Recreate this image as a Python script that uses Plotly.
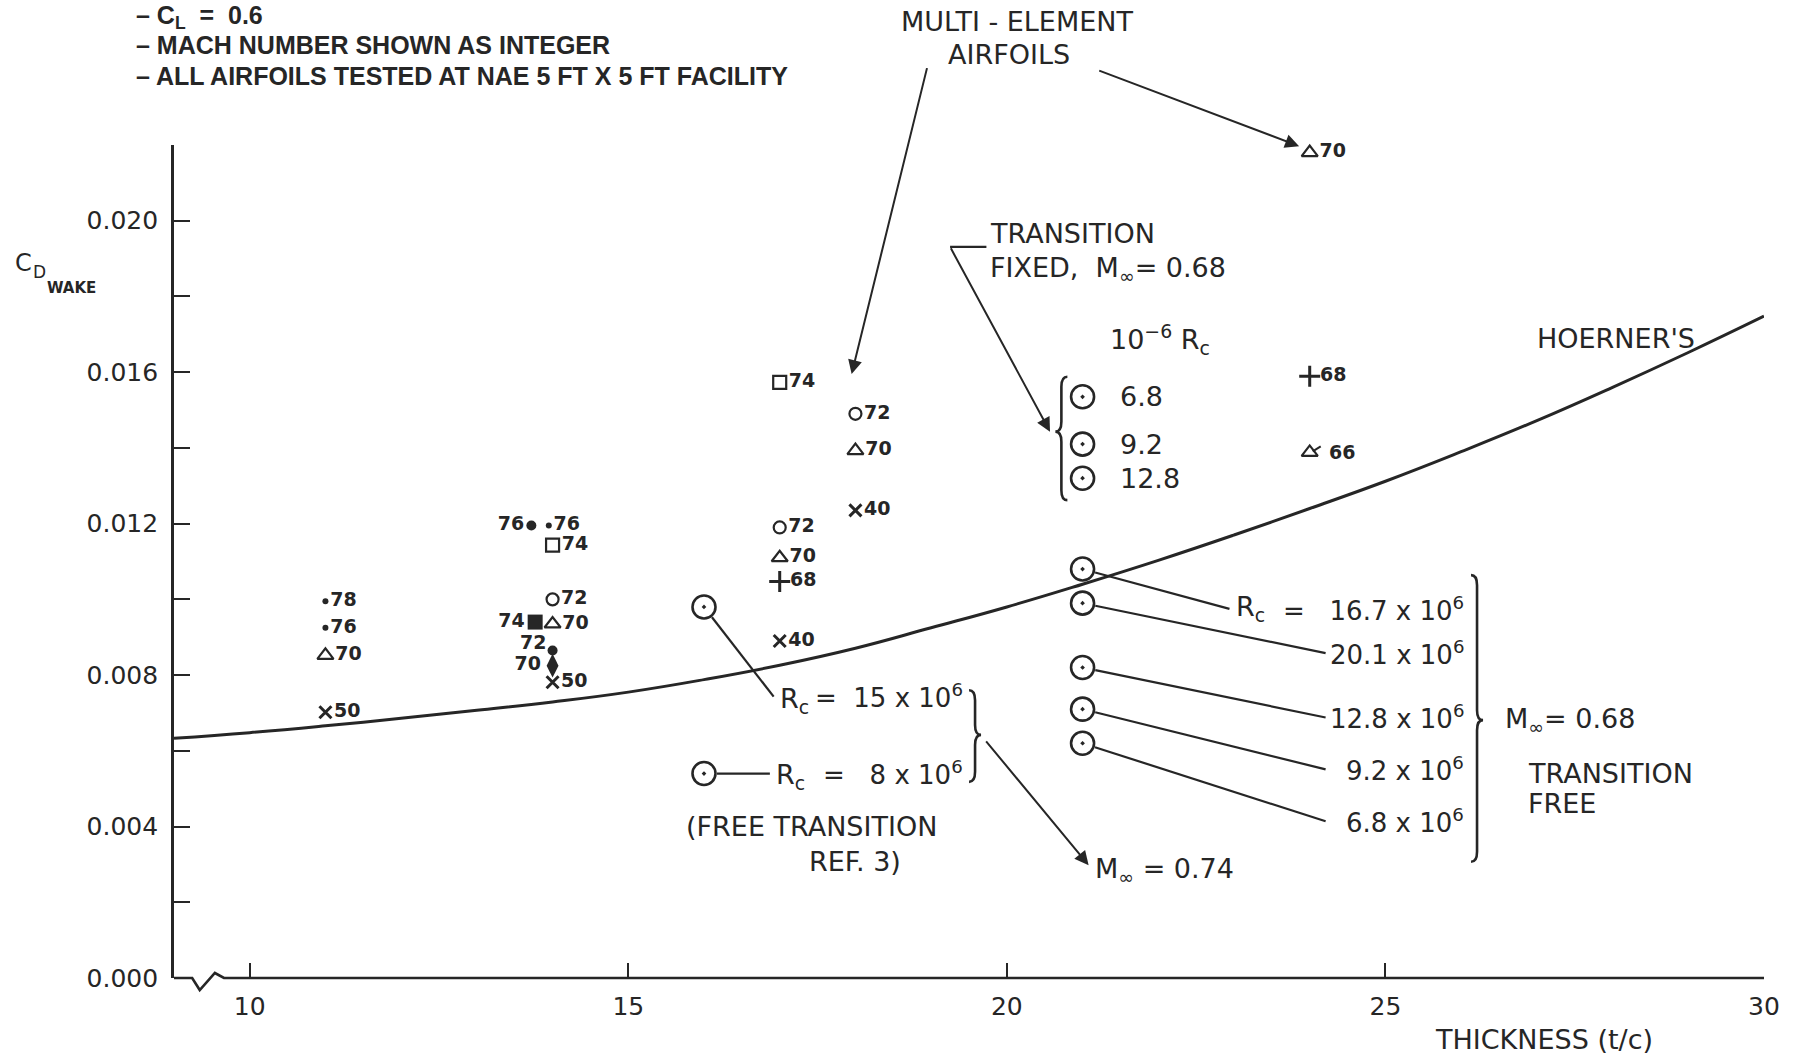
import math
import plotly.graph_objects as go

# ---------------- geometry ----------------
FIG_W, FIG_H = 1793, 1056
M_L, M_R, M_T, M_B = 174, 29, 145, 78
X_RANGE = [9.0, 30.0]
Y_RANGE = [0.0, 0.022]
PW = FIG_W - M_L - M_R
PH = FIG_H - M_T - M_B

INK = "#262626"
FONT = "DejaVu Sans"
TITLE_FONT = "Liberation Sans"

# ---------------- axis ticks ----------------
x_tick_vals = [10, 15, 20, 25, 30]
x_tick_text = ["10", "15", "20", "25", "30"]
y_tick_vals = [0.000, 0.002, 0.004, 0.006, 0.008, 0.010, 0.012,
               0.014, 0.016, 0.018, 0.020, 0.022]
y_tick_text = ["0.000", "", "0.004", "", "0.008", "", "0.012",
               "", "0.016", "", "0.020", ""]

# ---------------- Hoerner's curve (thickness %, Cd) ----------------
hoerner_t = [9, 10, 11, 12, 13, 14, 15, 16, 17, 18, 19, 20,
             21, 22, 23, 24, 25, 26, 27, 28, 29, 30]
hoerner_cd = [0.00633, 0.00648, 0.00666, 0.00686, 0.00707, 0.00729,
              0.00755, 0.00788, 0.00826, 0.00871, 0.00925, 0.00980,
              0.01040, 0.01103, 0.01170, 0.01240, 0.01312, 0.01390,
              0.01472, 0.01560, 0.01652, 0.01748]

# ---------------- NAE airfoil data (label = Mach x 100) ----------------
dot_t = [11, 11, 13.95]
dot_cd = [0.00995, 0.00925, 0.01195]
dot_m = ["78", "76", "76"]

fdot_t = [13.72, 14.0]
fdot_cd = [0.01195, 0.00865]
fdot_m = ["76", "72"]

sq_t = [14, 17]
sq_cd = [0.01143, 0.01573]
sq_m = ["74", "74"]

fsq_t = [13.77]
fsq_cd = [0.0094]
fsq_m = ["74"]

circ_t = [14, 17, 18]
circ_cd = [0.0100, 0.0119, 0.0149]
circ_m = ["72", "72", "72"]

tri_t = [11, 14, 17, 18, 24]
tri_cd = [0.00852, 0.00935, 0.0111, 0.01393, 0.0218]
tri_m = ["70", "70", "70", "70", "70"]

ftri_t = [24]
ftri_cd = [0.01388]
ftri_m = ["66"]

fdia_t = [14.0]
fdia_cd = [0.00825]
fdia_m = ["70"]

plus_t = [17, 24]
plus_cd = [0.01047, 0.01589]
plus_m = ["68", "68"]

cross_t = [11, 14, 17, 18]
cross_cd = [0.00702, 0.00781, 0.0089, 0.01235]
cross_m = ["50", "50", "40", "40"]

# Reynolds-number series (circle-dot symbols)
ref3_t = [16, 16]
ref3_cd = [0.0098, 0.0054]
ref3_rc = ["15", "8"]

fixed_t = [21, 21, 21]
fixed_cd = [0.01535, 0.0141, 0.0132]
fixed_rc = ["6.8", "9.2", "12.8"]

free_t = [21, 21, 21, 21, 21]
free_cd = [0.0108, 0.0099, 0.0082, 0.0071, 0.0062]
free_rc = ["16.7", "20.1", "12.8", "9.2", "6.8"]


# ---------------- coordinate helpers ----------------
def xpix(v):
    return M_L + (v - X_RANGE[0]) / (X_RANGE[1] - X_RANGE[0]) * PW


def ypix(v):
    return M_T + PH - (v - Y_RANGE[0]) / (Y_RANGE[1] - Y_RANGE[0]) * PH


def xdata(p):
    return X_RANGE[0] + (p - M_L) / PW * (X_RANGE[1] - X_RANGE[0])


def ydata(p):
    return Y_RANGE[0] + (M_T + PH - p) / PH * (Y_RANGE[1] - Y_RANGE[0])


def xpaper(v):
    return (v - X_RANGE[0]) / (X_RANGE[1] - X_RANGE[0])


def ypaper(v):
    return (v - Y_RANGE[0]) / (Y_RANGE[1] - Y_RANGE[0])


def px2paper(X, Y):
    return (X - M_L) / PW, (M_T + PH - Y) / PH


fig = go.Figure()

# Hoerner's reference curve
fig.add_trace(go.Scatter(
    x=hoerner_t, y=hoerner_cd, mode="lines",
    line=dict(color=INK, width=3, shape="spline", smoothing=1.3),
    hoverinfo="skip", showlegend=False))


def add_points(xs, ys, labels, symbol, size, pos="middle right",
               lw=2.2, color=INK):
    fig.add_trace(go.Scatter(
        x=xs, y=ys, mode="markers+text", text=labels,
        textposition=pos,
        textfont=dict(family=FONT, size=19, color=INK, weight="bold"),
        marker=dict(symbol=symbol, size=size, color=color,
                    line=dict(color=color, width=lw)),
        cliponaxis=False, showlegend=False))


add_points(dot_t, dot_cd, dot_m, "circle", 6, lw=0)
# the "72" of the lower filled dot is placed by an annotation below
add_points(fdot_t, fdot_cd, [fdot_m[0], ""], "circle", 10,
           pos=["middle left", "middle left"], lw=0)
add_points(sq_t, sq_cd, sq_m, "square-open", 13)
add_points(fsq_t, fsq_cd, fsq_m, "square", 15, pos="middle left", lw=0)
add_points(circ_t, circ_cd, circ_m, "circle-open", 12)
add_points(tri_t, tri_cd, tri_m, "triangle-up-open", 14)
# flagged triangle: label drawn as an annotation so it clears the flag
add_points(ftri_t, ftri_cd, [""] * len(ftri_t), "triangle-up-open", 14)
add_points(fdia_t, fdia_cd, fdia_m, "diamond-tall", 17, pos="middle left", lw=0)
add_points(plus_t, plus_cd, plus_m, "cross-thin-open", 15, lw=3)
add_points(cross_t, cross_cd, cross_m, "x-thin-open", 12, lw=3)

# circle-dot series
for xs, ys in ((ref3_t, ref3_cd), (fixed_t, fixed_cd), (free_t, free_cd)):
    fig.add_trace(go.Scatter(
        x=xs, y=ys, mode="markers",
        marker=dict(symbol="circle-open-dot", size=23, color=INK,
                    line=dict(color=INK, width=2.6)),
        cliponaxis=False, showlegend=False))

annotations = []
shapes = []


def label(x, y, text, size=27, xanchor="left", yanchor="middle",
          xref="paper", yref="paper", family=FONT, weight="normal",
          xshift=0, yshift=0):
    annotations.append(dict(
        x=x, y=y, xref=xref, yref=yref, text=text, showarrow=False,
        xanchor=xanchor, yanchor=yanchor, xshift=xshift, yshift=yshift,
        font=dict(family=family, size=size, color=INK, weight=weight)))


def dlabel(x, y, text, **kw):
    """Label positioned in data units (drawn on paper so it is never hidden)."""
    label(xpaper(x), ypaper(y), text, **kw)


def arrow(x0, y0, x1, y1):
    annotations.append(dict(
        x=x1, y=y1, ax=x0, ay=y0, xref="x", yref="y", axref="x", ayref="y",
        text="", showarrow=True, arrowhead=2, arrowsize=1.4,
        arrowwidth=2, arrowcolor=INK, standoff=0, startstandoff=0))


def segment(x0, y0, x1, y1, width=2.2):
    shapes.append(dict(type="line", xref="x", yref="y", x0=x0, y0=y0,
                       x1=x1, y1=y1, line=dict(color=INK, width=width)))


def leader(cx, cy, ex, ey, radius=13):
    """Line from the edge of a circle-dot marker to its label."""
    X0, Y0, X1, Y1 = xpix(cx), ypix(cy), xpix(ex), ypix(ey)
    d = math.hypot(X1 - X0, Y1 - Y0)
    sx = X0 + (X1 - X0) / d * radius
    sy = Y0 + (Y1 - Y0) / d * radius
    segment(xdata(sx), ydata(sy), ex, ey)


def brace(xc, y_top, y_bot, y_tip, side, w=12, r=10):
    """Curly brace; side=-1 points left, side=+1 points right."""
    X, Yt, Yb, Yp = xpix(xc), ypix(y_top), ypix(y_bot), ypix(y_tip)
    tip = X + side * w / 2
    end = X - side * w / 2
    pts = [("M", [(end, Yt)]),
           ("Q", [(X, Yt), (X, Yt + r)]),
           ("L", [(X, Yp - r)]),
           ("Q", [(X, Yp), (tip, Yp)]),
           ("Q", [(X, Yp), (X, Yp + r)]),
           ("L", [(X, Yb - r)]),
           ("Q", [(X, Yb), (end, Yb)])]
    path = ""
    for cmd, plist in pts:
        coords = []
        for (px_, py_) in plist:
            a, b = px2paper(px_, py_)
            coords.append(f"{a:.5f},{b:.5f}")
        path += cmd + " " + " ".join(coords) + " "
    shapes.append(dict(type="path", xref="paper", yref="paper", path=path,
                       line=dict(color=INK, width=2.6)))


# ---------------- x axis with break ----------------
axis_pts = [(9.0, 0), (9.24, 0), (9.34, -12), (9.54, 5), (9.66, 0), (30.0, 0)]
path = ""
for i, (xv, off) in enumerate(axis_pts):
    a, b = px2paper(xpix(xv), ypix(0) - off)
    path += ("M " if i == 0 else "L ") + f"{a:.5f},{b:.5f} "
shapes.append(dict(type="path", xref="paper", yref="paper", path=path,
                   line=dict(color=INK, width=2.6)))

# flag on the flagged triangle symbol, then its label
for t, cd, m in zip(ftri_t, ftri_cd, ftri_m):
    X, Y = xpix(t), ypix(cd)
    segment(xdata(X + 3), ydata(Y - 1), xdata(X + 11), ydata(Y - 6), width=2)
    dlabel(t, cd, m, size=19, weight="bold", xshift=17)

# label for the lower filled dot at 14 %
dlabel(fdot_t[1], fdot_cd[1], fdot_m[1], size=19, weight="bold",
       xanchor="right", xshift=-5, yshift=8)

# ---------------- header notes ----------------
HX = px2paper(134, 0)[0]
label(HX, px2paper(0, 17)[1], "– C<sub>L</sub>  =  0.6", size=25,
      family=TITLE_FONT, weight="bold")
label(HX, px2paper(0, 45)[1], "– MACH NUMBER SHOWN AS INTEGER", size=25,
      family=TITLE_FONT, weight="bold")
label(HX, px2paper(0, 76)[1],
      "– ALL AIRFOILS TESTED AT NAE 5 FT X 5 FT FACILITY", size=25,
      family=TITLE_FONT, weight="bold")

# ---------------- axis titles ----------------
label(px2paper(13, 0)[0], px2paper(0, 263)[1], "C", size=24)
label(px2paper(31, 0)[0], px2paper(0, 272)[1], "D", size=17)
label(px2paper(45, 0)[0], px2paper(0, 288)[1], "WAKE", size=15, weight="bold")
label(px2paper(1544, 0)[0], px2paper(0, 1039)[1], "THICKNESS (t/c)", size=27,
      xanchor="center")

# ---------------- multi-element airfoils ----------------
dlabel(20.13, 0.02526, "MULTI - ELEMENT", xanchor="center")
dlabel(20.03, 0.02438, "AIRFOILS", xanchor="center")
arrow(18.95, 0.02407, 17.95, 0.01595)
arrow(21.2, 0.02398, 23.86, 0.02197)

# ---------------- transition fixed ----------------
dlabel(19.75, 0.01967, "TRANSITION")
dlabel(19.75, 0.01872, "FIXED,  M<sub>∞</sub>= 0.68")
segment(19.25, 0.01931, 19.73, 0.01931)
arrow(19.25, 0.01931, 20.57, 0.01443)
brace(20.72, 0.01588, 0.01262, 0.01443, -1)
dlabel(21.33, 0.01686, "10<sup>−6</sup> R<sub>c</sub>")
for cd, rc in zip(fixed_cd, fixed_rc):
    dlabel(21.47, cd, rc)

# ---------------- transition free, M = 0.68 ----------------
free_end_x = [22.94, 24.21, 24.21, 24.21, 24.21]
free_end_y = [0.00975, 0.00858, 0.00688, 0.00551, 0.00414]
for t, cd, ex, ey in zip(free_t, free_cd, free_end_x, free_end_y):
    leader(t, cd, ex, ey)
dlabel(23.0, free_end_y[0], "R<sub>c</sub>")
for i, (rc, ey) in enumerate(zip(free_rc, free_end_y)):
    prefix = "=   " if i == 0 else ""
    dlabel(26.06, ey, f"{prefix}{rc} x 10<sup>6</sup>", size=26, xanchor="right")
brace(26.21, 0.01064, 0.00307, 0.00681, +1)
dlabel(26.55, 0.00681, "M<sub>∞</sub>= 0.68")
dlabel(26.86, 0.0054, "TRANSITION")
dlabel(26.86, 0.00461, "FREE")

# ---------------- reference 3, M = 0.74 ----------------
ref3_end = [(16.92, 0.00743), (16.87, ref3_cd[1])]
for t, cd, (ex, ey) in zip(ref3_t, ref3_cd, ref3_end):
    leader(t, cd, ex, ey)
dlabel(16.98, 0.00734, "R<sub>c</sub>")
dlabel(19.45, 0.00745, f"=  {ref3_rc[0]} x 10<sup>6</sup>", size=26, xanchor="right")
dlabel(16.92, 0.00532, "R<sub>c</sub>")
dlabel(19.45, 0.00542, f"=   {ref3_rc[1]} x 10<sup>6</sup>", size=26, xanchor="right")
brace(19.58, 0.0076, 0.00518, 0.00642, +1)
arrow(19.71, 0.00629, 21.08, 0.00298)
dlabel(21.14, 0.00285, "M<sub>∞</sub> = 0.74")
dlabel(15.73, 0.0040, "(FREE TRANSITION")
dlabel(17.36, 0.00307, "REF. 3)")

# Hoerner label
dlabel(26.98, 0.0169, "HOERNER'S", size=27)

fig.update_layout(
    width=FIG_W, height=FIG_H,
    margin=dict(l=M_L, r=M_R, t=M_T, b=M_B, pad=0),
    paper_bgcolor="white", plot_bgcolor="white",
    font=dict(family=FONT, color=INK),
    showlegend=False,
    annotations=annotations, shapes=shapes,
    xaxis=dict(range=X_RANGE, showgrid=False, zeroline=False, showline=False,
               tickmode="array", tickvals=x_tick_vals, ticktext=x_tick_text,
               ticks="inside", ticklen=15, tickwidth=2, tickcolor=INK,
               ticklabelstandoff=11,
               tickfont=dict(family=FONT, size=25, color=INK)),
    yaxis=dict(range=Y_RANGE, showgrid=False, zeroline=False, showline=True,
               linecolor=INK, linewidth=2.6,
               tickmode="array", tickvals=y_tick_vals, ticktext=y_tick_text,
               ticks="inside", ticklen=16, tickwidth=2, tickcolor=INK,
               ticklabelstandoff=8,
               tickfont=dict(family=FONT, size=25, color=INK)),
)

fig.write_html("out.html")
